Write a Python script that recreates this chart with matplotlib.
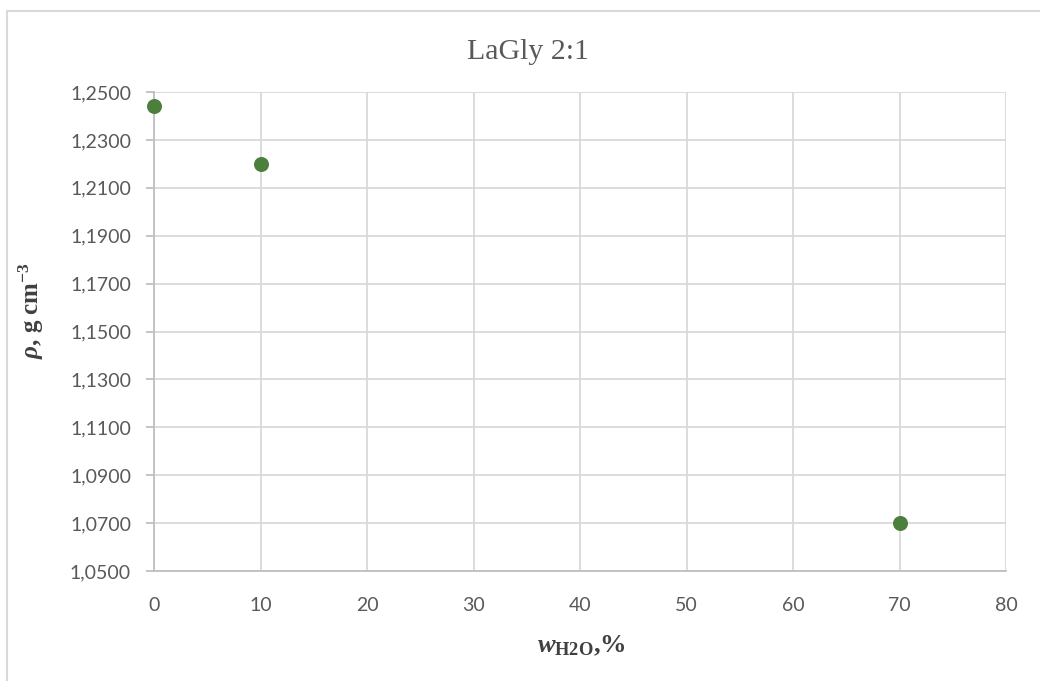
import matplotlib
matplotlib.use("Agg")
import matplotlib.pyplot as plt
from matplotlib.patches import Rectangle

# ---- data ----
water_pct = [0, 10, 70]
density = [1.2440, 1.2200, 1.0702]
x_ticks = [0, 10, 20, 30, 40, 50, 60, 70, 80]
y_ticks = [1.05, 1.07, 1.09, 1.11, 1.13, 1.15, 1.17, 1.19, 1.21, 1.23, 1.25]
y_tick_labels = ["1,0500", "1,0700", "1,0900", "1,1100", "1,1300", "1,1500",
                 "1,1700", "1,1900", "1,2100", "1,2300", "1,2500"]
title = "LaGly 2:1"

plt.rcParams['mathtext.fontset'] = 'custom'
plt.rcParams['mathtext.rm'] = 'Liberation Serif:bold'
plt.rcParams['mathtext.bf'] = 'Liberation Serif:bold'
plt.rcParams['mathtext.it'] = 'Liberation Serif:bold:italic'

W, H = 1040, 681
fig = plt.figure(figsize=(W / 100, H / 100), dpi=100)

# outer chart border
fig.add_artist(Rectangle((7 / W, -0.1), 1.2, 1 - 11 / H + 0.1,
                         transform=fig.transFigure, fill=False,
                         edgecolor='#d9d9d9', linewidth=1.5))

left, right, top, bottom = 154, 1006, 92, 571
ax = fig.add_axes([left / W, 1 - bottom / H, (right - left) / W, (bottom - top) / H])

ax.scatter(water_pct, density, s=10.8 ** 2, color='#4b7f3c', zorder=3, clip_on=False,
           linewidths=0)

ax.set_xlim(0, 80)
ax.set_ylim(1.05, 1.25)
ax.set_xticks(x_ticks)
ax.set_xticklabels([str(v) for v in x_ticks])
ax.set_yticks(y_ticks)
ax.set_yticklabels(y_tick_labels)

grid_c = '#d9d9d9'
ax.grid(True, color=grid_c, linewidth=1.3, zorder=0)
ax.set_axisbelow(True)
for s in ['top', 'right']:
    ax.spines[s].set_visible(False)
for s in ['left', 'bottom']:
    ax.spines[s].set_color('#bfbfbf')
    ax.spines[s].set_linewidth(1.3)

ax.tick_params(axis='y', length=5.5, width=1.3, color='#bfbfbf', pad=11,
               labelsize=14, labelcolor='#595959')
ax.tick_params(axis='x', length=0, pad=18.5, labelsize=14, labelcolor='#595959')
for lab in ax.get_xticklabels() + ax.get_yticklabels():
    lab.set_fontfamily('Lato')

fig.text(528 / W, 1 - 59 / H, title, ha='center', va='baseline',
         fontsize=21.5, family='Liberation Serif', color='#595959')

fig.text(31 / W, 1 - 311 / H, r'$\rho$, g cm$^{\mathbf{-3}}$', rotation=90,
         ha='center', va='center', fontsize=18, family='Liberation Serif',
         fontweight='bold', color='#404040')

fig.text(581 / W, 1 - 652 / H, r'$w_{\mathbf{H2O}}$,%', ha='center', va='baseline',
         fontsize=19, family='Liberation Serif', fontweight='bold', color='#404040')

fig.savefig('out.png', dpi=100, facecolor='white')
